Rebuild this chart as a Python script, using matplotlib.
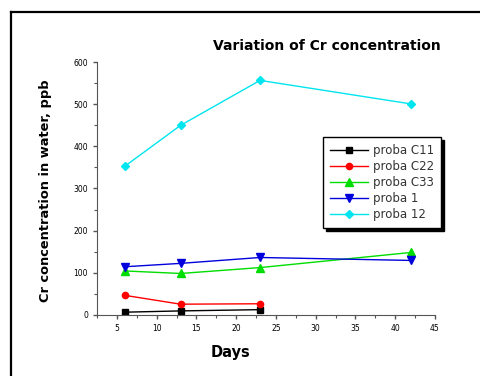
import matplotlib
matplotlib.use("Agg")
import matplotlib.pyplot as plt
from matplotlib.lines import Line2D
from matplotlib.ticker import MultipleLocator

days_short = [6, 13, 23]
days_long = [6, 13, 23, 42]
proba_c11 = [6, 9, 12]
proba_c22 = [46, 25, 26]
proba_c33 = [104, 98, 112, 148]
proba_1 = [114, 122, 136, 129]
proba_12 = [353, 450, 557, 501]

W, H = 481, 376
fig = plt.figure(figsize=(W / 100, H / 100), dpi=100)
fig.patch.set_facecolor("white")

ax = fig.add_axes([97 / W, 1 - 314.7 / H, 338 / W, 252.4 / H])

ax.plot(days_short, proba_c11, color="black", marker="s", ms=4.5, lw=1, label="proba C11")
ax.plot(days_short, proba_c22, color="red", marker="o", ms=4.5, lw=1, label="proba C22")
ax.plot(days_long, proba_c33, color="#00dd00", marker="^", ms=6, lw=1, label="proba C33")
ax.plot(days_long, proba_1, color="#0000dd", marker="v", ms=6, lw=1, label="proba 1")
ax.plot(days_long, proba_12, color="#00e5ee", marker="D", ms=4.5, lw=1, label="proba 12")

ax.set_xlim(2.5, 45)
ax.set_ylim(0, 600)
ax.xaxis.set_major_locator(MultipleLocator(5))
ax.xaxis.set_minor_locator(MultipleLocator(2.5))
ax.yaxis.set_major_locator(MultipleLocator(100))
ax.yaxis.set_minor_locator(MultipleLocator(50))
ax.set_xticks([5, 10, 15, 20, 25, 30, 35, 40, 45])
ax.spines["top"].set_visible(False)
ax.spines["right"].set_visible(False)
ax.spines["left"].set_color("#555555")
ax.spines["bottom"].set_color("#555555")
ax.tick_params(axis="both", which="major", labelsize=5.5, length=3, width=1, direction="out", color="#555555")
ax.tick_params(axis="both", which="minor", length=2, width=0.8, direction="out", color="#555555")

ax.set_xlabel("Days", fontsize=10.5, fontweight="bold")
ax.xaxis.set_label_coords((230 - 97) / 338, -(352 - 314.7) / 252.4)
ax.xaxis.label.set_va("center")
ax.set_ylabel("Cr concentration in water, ppb", fontsize=9.4, fontweight="bold")
ax.yaxis.set_label_coords(-(97 - 46) / 338, (314.7 - 190.5) / 252.4)
ax.yaxis.label.set_va("center")

fig.text(327 / W, 1 - 46 / H, "Variation of Cr concentration", fontsize=10,
         fontweight="bold", ha="center", va="center")

leg = ax.legend(loc="upper left", bbox_to_anchor=(323 / W, 1 - 137 / H),
                bbox_transform=fig.transFigure, borderaxespad=0, fontsize=8.5,
                frameon=True, fancybox=False, shadow={"color": "black", "alpha": 1},
                edgecolor="black", handlelength=3.2, labelspacing=0.25,
                borderpad=0.6, handletextpad=0.4, labelcolor="#333333")
leg.get_frame().set_linewidth(1)

fig.add_artist(Line2D([11 / W, 11 / W], [0, 1 - 12 / H], color="black", lw=1.6,
                      transform=fig.transFigure))
fig.add_artist(Line2D([11 / W, 1], [1 - 12 / H, 1 - 12 / H], color="black", lw=1.6,
                      transform=fig.transFigure))

fig.savefig("out.png", dpi=100)
